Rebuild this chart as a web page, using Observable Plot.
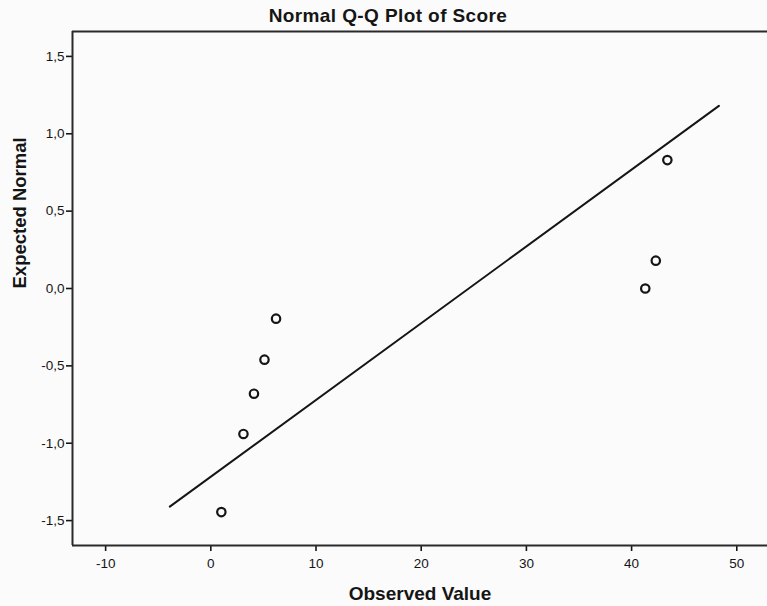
<!DOCTYPE html>
<html><head><meta charset="utf-8">
<script src="https://cdn.jsdelivr.net/npm/d3@7"></script>
<script src="https://cdn.jsdelivr.net/npm/@observablehq/plot@0.6"></script>
<style>
body{margin:0;background:#fbfbfb;font-family:"Liberation Sans",Arial,sans-serif;}
#title{box-sizing:border-box;width:767px;height:30px;line-height:32px;text-align:center;font-weight:bold;font-size:19px;color:#151515;padding-left:9px;letter-spacing:0.4px;white-space:nowrap;overflow:visible;}
#chart svg{display:block;}
#chart g[aria-label$="tick"]{stroke-width:1.6;}
</style></head><body>
<div id="title">Normal Q-Q Plot of Score</div>
<div id="chart"></div>
<script>
const observed = [1.0, 3.1, 4.1, 5.1, 6.2, 41.3, 42.3, 43.4];
const expected = [-1.445, -0.94, -0.68, -0.46, -0.195, 0.0, 0.18, 0.83];
// Reference line endpoints
const lineObserved = [-3.9, 48.3];
const lineExpected = [-1.41, 1.18];
// Axes
const xDomain = [-13.15, 52.92];
const yDomain = [-1.661, 1.661];
const xTicks = [-10, 0, 10, 20, 30, 40, 50];
const yTicks = [-1.5, -1.0, -0.5, 0.0, 0.5, 1.0, 1.5];
const titleText = "Normal Q-Q Plot of Score";
const xLabel = "Observed Value";
const yLabel = "Expected Normal";

const points = observed.map((x, i) => ({x, y: expected[i]}));
const refLine = lineObserved.map((x, i) => ({x, y: lineExpected[i]}));
const fmt = d => d.toFixed(1).replace(".", ",");

const chart = Plot.plot({
  width: 767, height: 576,
  marginTop: 1, marginBottom: 61, marginLeft: 72, marginRight: 0,
  style: {background: "transparent", fontFamily: "'Liberation Sans', Arial, sans-serif", fontSize: "13.5px", color: "#151515", overflow: "visible"},
  x: {domain: xDomain, ticks: xTicks, tickFormat: d => String(d), tickSize: 6, tickPadding: 7, label: null},
  y: {domain: yDomain, ticks: yTicks, tickFormat: fmt, tickSize: 6, tickPadding: 2, label: null},
  marks: [
    Plot.ruleX([xDomain[0]], {stroke: "#2a2a2a", strokeWidth: 2}),
    Plot.ruleY([yDomain[0], yDomain[1]], {stroke: "#2a2a2a", strokeWidth: 2}),
    Plot.line(refLine, {x: "x", y: "y", stroke: "#151515", strokeWidth: 2}),
    Plot.dot(points, {x: "x", y: "y", r: 4.2, stroke: "#151515", strokeWidth: 2.2, fill: "none"}),
    Plot.text([yLabel], {frameAnchor: "left", dx: -52, rotate: -90, fontWeight: "bold", fontSize: 18.5, fill: "#151515", lineAnchor: "middle"}),
    Plot.text([xLabel], {frameAnchor: "bottom", dy: 48, fontWeight: "bold", fontSize: 19, fill: "#151515", lineAnchor: "middle"})
  ]
});
document.getElementById("title").textContent = titleText;
document.getElementById("chart").appendChild(chart);
</script>
</body></html>
